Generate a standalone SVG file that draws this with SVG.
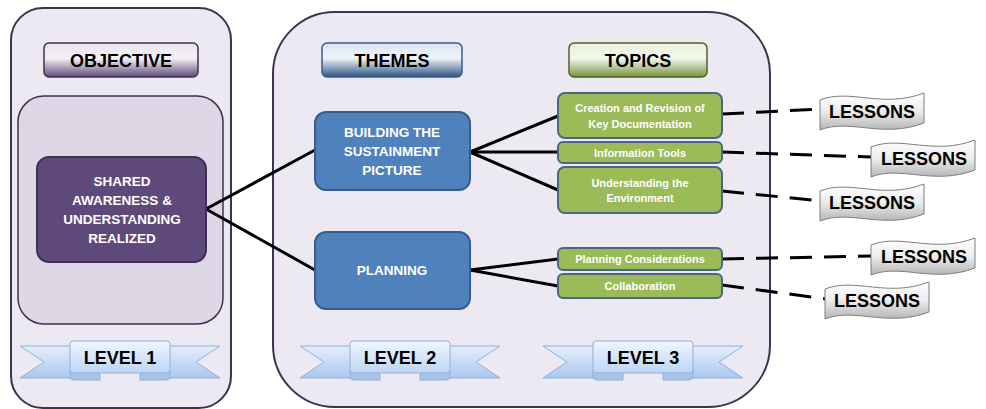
<svg xmlns="http://www.w3.org/2000/svg" width="986" height="409" viewBox="0 0 986 409">
<defs>
<linearGradient id="gObj" x1="0" y1="0" x2="0" y2="1"><stop offset="0" stop-color="#e9e4ef"/><stop offset="0.45" stop-color="#f4f1f7"/><stop offset="1" stop-color="#5f497a"/></linearGradient>
<linearGradient id="gThm" x1="0" y1="0" x2="0" y2="1"><stop offset="0" stop-color="#dbe5f1"/><stop offset="0.45" stop-color="#eef3f9"/><stop offset="1" stop-color="#2c5282"/></linearGradient>
<linearGradient id="gTop" x1="0" y1="0" x2="0" y2="1"><stop offset="0" stop-color="#eaf1dd"/><stop offset="0.45" stop-color="#f3f7ec"/><stop offset="1" stop-color="#77933c"/></linearGradient>
<linearGradient id="gLes" x1="0" y1="0" x2="0" y2="1"><stop offset="0" stop-color="#ffffff"/><stop offset="0.5" stop-color="#ececec"/><stop offset="1" stop-color="#b5b5b5"/></linearGradient>
<linearGradient id="gRib" x1="0" y1="0" x2="0" y2="1"><stop offset="0" stop-color="#e6effb"/><stop offset="1" stop-color="#a9c8ef"/></linearGradient>
<linearGradient id="gRibBox" x1="0" y1="0" x2="0" y2="1"><stop offset="0" stop-color="#f1f6fd"/><stop offset="1" stop-color="#bcd5f4"/></linearGradient>
<path id="wave" d="M0,7 C30,-5 62,16 104,0 L104,30 C62,46 30,25 0,37 Z"/>
<g id="ribbon">
<path d="M0,6 L62,6 L62,38 L0,38 L24,22 Z" fill="url(#gRib)" stroke="#8eb0dc" stroke-width="1"/>
<path d="M200,6 L138,6 L138,38 L200,38 L176,22 Z" fill="url(#gRib)" stroke="#8eb0dc" stroke-width="1"/>
<path d="M50,30 L80,30 L80,40 L54,40 Q50,40 50,36 Z" fill="#a9c4ea" stroke="#8eb0dc" stroke-width="1"/>
<path d="M150,30 L120,30 L120,40 L146,40 Q150,40 150,36 Z" fill="#a9c4ea" stroke="#8eb0dc" stroke-width="1"/>
<rect x="50" y="1" width="100" height="32" rx="3" fill="url(#gRibBox)" stroke="#8eb0dc" stroke-width="1"/>
</g>
</defs>
<style>
.panel{fill:#ece9f2;stroke:#3f3151;stroke-width:2}
.hdr{font-family:"Liberation Sans",Arial,sans-serif;font-weight:bold;font-size:18px;fill:#000;text-anchor:middle}
.wt{font-family:"Liberation Sans",Arial,sans-serif;font-weight:bold;fill:#fff;text-anchor:middle}
.tp{font-family:"Liberation Sans",Arial,sans-serif;font-weight:bold;fill:#fff;text-anchor:middle;font-size:11px}
.topic{fill:#9bbb59;stroke:#4a6680;stroke-width:2}
.theme{fill:#4f81bd;stroke:#385d8a;stroke-width:2}
.solid{stroke:#000;stroke-width:3;fill:none}
.dash{stroke:#000;stroke-width:3;fill:none;stroke-dasharray:22 12}
.les{fill:url(#gLes);stroke:#7f7f7f;stroke-width:1}
</style>

<g id="panel-level1">
<rect class="panel" x="11" y="8" width="220" height="400" rx="32"/>
<rect x="18" y="96" width="205" height="228" rx="26" fill="#ddd7e6" stroke="#3f3151" stroke-width="1.5"/>
</g>
<g id="panel-level23">
<rect class="panel" x="273" y="12" width="497" height="395" rx="62"/>
</g>

<g id="hdr-objective">
<rect x="44" y="43" width="154" height="34" rx="5" fill="url(#gObj)" stroke="#3f3151" stroke-width="1.5"/>
<text class="hdr" x="121" y="67">OBJECTIVE</text>
</g>
<g id="hdr-themes">
<rect x="322" y="43" width="140" height="34" rx="5" fill="url(#gThm)" stroke="#385d8a" stroke-width="1.5"/>
<text class="hdr" x="392" y="67" font-size="19">THEMES</text>
</g>
<g id="hdr-topics">
<rect x="569" y="43" width="138" height="34" rx="5" fill="url(#gTop)" stroke="#4f6228" stroke-width="1.5"/>
<text class="hdr" x="638" y="67" font-size="19">TOPICS</text>
</g>

<g id="connectors">
<path class="solid" d="M206,209 L315,150"/>
<path class="solid" d="M206,209 L315,270"/>
<path class="solid" d="M470,152 L558,116"/>
<path class="solid" d="M470,152 L558,152"/>
<path class="solid" d="M470,152 L558,190"/>
<path class="solid" d="M470,270 L558,259"/>
<path class="solid" d="M470,270 L558,286"/>
<path class="dash" d="M722,114 L821,109"/>
<path class="dash" d="M722,152 L871,157"/>
<path class="dash" d="M722,191 L821,201"/>
<path class="dash" d="M722,259 L871,256"/>
<path class="dash" d="M722,285 L826,299"/>
</g>

<g id="node-objective">
<rect x="37" y="157" width="169" height="105" rx="12" fill="#5f497a" stroke="#3f3151" stroke-width="2"/>
<text class="wt" font-size="13.5" x="122" y="186">SHARED</text>
<text class="wt" font-size="13.5" x="122" y="205">AWARENESS &amp;</text>
<text class="wt" font-size="13.5" x="122" y="224">UNDERSTANDING</text>
<text class="wt" font-size="13.5" x="122" y="243">REALIZED</text>
</g>

<g id="node-building">
<rect class="theme" x="315" y="112" width="155" height="78" rx="11"/>
<text class="wt" font-size="13.5" x="392" y="137">BUILDING THE</text>
<text class="wt" font-size="13.5" x="392" y="156">SUSTAINMENT</text>
<text class="wt" font-size="13.5" x="392" y="175">PICTURE</text>
</g>
<g id="node-planning">
<rect class="theme" x="315" y="232" width="155" height="77" rx="11"/>
<text class="wt" font-size="13.5" x="392" y="275">PLANNING</text>
</g>

<g id="topic-creation">
<rect class="topic" x="558" y="93" width="164" height="45" rx="7"/>
<text class="tp" x="640" y="112">Creation and Revision of</text>
<text class="tp" x="640" y="128">Key Documentation</text>
</g>
<g id="topic-info">
<rect class="topic" x="558" y="142" width="164" height="21" rx="5"/>
<text class="tp" x="640" y="156.5">Information Tools</text>
</g>
<g id="topic-understanding">
<rect class="topic" x="558" y="167" width="164" height="46" rx="7"/>
<text class="tp" x="640" y="187">Understanding the</text>
<text class="tp" x="640" y="202">Environment</text>
</g>
<g id="topic-planning-cons">
<rect class="topic" x="558" y="248" width="164" height="22" rx="5"/>
<text class="tp" x="640" y="263">Planning Considerations</text>
</g>
<g id="topic-collaboration">
<rect class="topic" x="558" y="274" width="164" height="24" rx="5"/>
<text class="tp" x="640" y="290">Collaboration</text>
</g>

<g id="lessons-1" transform="translate(820,93)">
<use href="#wave" class="les"/>
<text class="hdr" x="52" y="25">LESSONS</text>
</g>
<g id="lessons-2" transform="translate(871,140)">
<use href="#wave" class="les"/>
<text class="hdr" x="53" y="25">LESSONS</text>
</g>
<g id="lessons-3" transform="translate(820,184)">
<use href="#wave" class="les"/>
<text class="hdr" x="52" y="25">LESSONS</text>
</g>
<g id="lessons-4" transform="translate(871,238)">
<use href="#wave" class="les"/>
<text class="hdr" x="53" y="25">LESSONS</text>
</g>
<g id="lessons-5" transform="translate(825,282)">
<use href="#wave" class="les"/>
<text class="hdr" x="52" y="25">LESSONS</text>
</g>

<g id="level-1" transform="translate(20,340)">
<use href="#ribbon"/>
<text class="hdr" x="100" y="24">LEVEL 1</text>
</g>
<g id="level-2" transform="translate(300,340)">
<use href="#ribbon"/>
<text class="hdr" x="100" y="24">LEVEL 2</text>
</g>
<g id="level-3" transform="translate(543,340)">
<use href="#ribbon"/>
<text class="hdr" x="100" y="24">LEVEL 3</text>
</g>
</svg>
